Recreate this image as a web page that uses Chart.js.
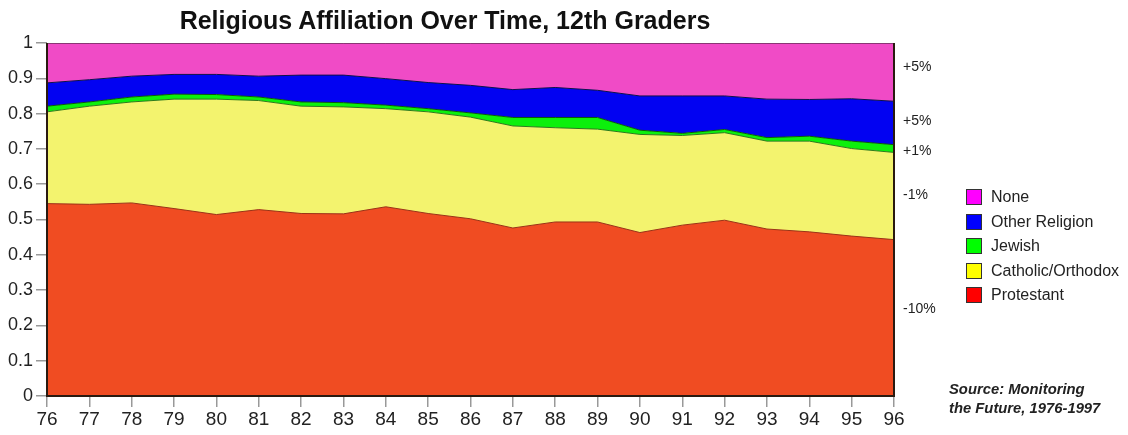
<!DOCTYPE html>
<html>
<head>
<meta charset="utf-8">
<script src="https://cdn.jsdelivr.net/npm/chart.js@4"></script>
<style>
  body { margin: 0; background: #fff; font-family: "Liberation Sans", Arial, sans-serif; }
  #wrap { position: relative; width: 1128px; height: 435px; }
  #title { position: absolute; left: 0; top: 7px; width: 890px; text-align: center;
           font-weight: bold; font-size: 25px; line-height: 26px; color: #111; }
  .change { position: absolute; left: 903px; font-size: 14px; line-height: 16px; color: #222; }
  #legend { position: absolute; left: 966px; top: 185px; }
  .item { height: 24.5px; display: flex; align-items: center; font-size: 16px; color: #222; }
  .swatch { width: 14px; height: 14px; border: 1px solid #333; margin-right: 9px; }
  #source { position: absolute; left: 949px; top: 380px; font-size: 14.8px; line-height: 19px;
            font-weight: bold; font-style: italic; color: #222; }
</style>
</head>
<body>
<div id="wrap">
  <canvas id="religionChart" width="1128" height="435"></canvas>
  <div id="title">Religious Affiliation Over Time, 12th Graders</div>
  <div id="legend"></div>
  <div id="source">Source: Monitoring<br>the Future, 1976-1997</div>
</div>
<script>
// Data (shares of 12th graders)
const years = ['76','77','78','79','80','81','82','83','84','85','86',
               '87','88','89','90','91','92','93','94','95','96'];
const protestant = [0.545,0.543,0.547,0.531,0.514,0.528,0.517,0.516,0.536,0.517,0.502,
                    0.476,0.493,0.493,0.463,0.484,0.498,0.473,0.465,0.453,0.443];
const catholic = [0.260,0.278,0.286,0.310,0.327,0.309,0.304,0.303,0.278,0.288,0.288,
                  0.289,0.267,0.263,0.278,0.254,0.248,0.249,0.257,0.248,0.247];
const jewish = [0.016,0.012,0.014,0.014,0.013,0.010,0.012,0.012,0.010,0.009,0.012,
                0.024,0.029,0.033,0.012,0.006,0.009,0.010,0.014,0.021,0.022];
const otherReligion = [0.066,0.063,0.059,0.056,0.057,0.059,0.076,0.078,0.075,0.074,0.078,
                       0.079,0.085,0.077,0.097,0.106,0.095,0.109,0.104,0.120,0.123];
const none = [0.113,0.104,0.094,0.089,0.089,0.094,0.091,0.091,0.101,0.112,0.120,
              0.132,0.126,0.134,0.150,0.150,0.150,0.159,0.160,0.158,0.165];
const yTickLabels = ['0','0.1','0.2','0.3','0.4','0.5','0.6','0.7','0.8','0.9','1'];
const changeLabels = ['+5%','+5%','+1%','-1%','-10%'];
const changeTops = [58, 112, 142, 186, 300];

// series drawn bottom -> top
const series = [
  { label: 'Protestant', data: protestant, fill: '#f04c22', line: '#9a3415', key: '#ff0000' },
  { label: 'Catholic/Orthodox', data: catholic, fill: '#f3f36e', line: '#2d7a1c', key: '#ffff00' },
  { label: 'Jewish', data: jewish, fill: '#0cf00c', line: '#0a5a0a', key: '#00ff00' },
  { label: 'Other Religion', data: otherReligion, fill: '#0202f2', line: '#10104a', key: '#0000ff' },
  { label: 'None', data: none, fill: '#f04bc6', line: '#222', key: '#ff00ff' }
];

const frame = {
  id: 'frame',
  afterDatasetsDraw(chart) {
    const a = chart.chartArea;
    const c = chart.ctx;
    c.save();
    c.strokeStyle = '#2a1a10';
    c.lineWidth = 2;
    c.beginPath();
    c.moveTo(a.left, a.top);
    c.lineTo(a.left, a.bottom);
    c.lineTo(a.right, a.bottom);
    c.lineTo(a.right, a.top);
    c.stroke();
    c.restore();
  }
};

const ctx = document.getElementById('religionChart').getContext('2d');
const religionChart = new Chart(ctx, {
  type: 'line',
  data: {
    labels: years,
    datasets: series.map((s, i) => ({
      label: s.label,
      data: s.data,
      backgroundColor: s.fill,
      borderColor: s.line,
      borderWidth: 1,
      fill: i === 0 ? 'origin' : '-1',
      pointRadius: 0,
      tension: 0
    }))
  },
  options: {
    responsive: false,
    animation: false,
    layout: { padding: { top: 43, right: 234, left: 0, bottom: 0 } },
    plugins: {
      legend: { display: false },
      tooltip: { enabled: false }
    },
    scales: {
      x: {
        offset: false,
        grid: { drawOnChartArea: false, tickLength: 11, color: '#999', lineWidth: 1.5 },
        border: { display: false },
        ticks: { color: '#222', font: { family: 'Liberation Sans', size: 19 }, padding: 1, maxRotation: 0, autoSkip: false },
        afterFit(s) { s.height = 39; }
      },
      y: {
        stacked: true,
        min: 0,
        max: 1,
        grid: { drawOnChartArea: false, tickLength: 11, color: '#999', lineWidth: 1.5 },
        border: { display: false },
        ticks: {
          stepSize: 0.1,
          color: '#222',
          padding: 3,
          font: { family: 'Liberation Sans', size: 18 },
          callback: (v, i) => yTickLabels[i]
        },
        afterFit(s) { s.width = 47; }
      }
    }
  },
  plugins: [frame]
});

// legend and change notes
const legend = document.getElementById('legend');
series.slice().reverse().forEach(s => {
  const row = document.createElement('div');
  row.className = 'item';
  row.innerHTML = '<span class="swatch" style="background:' + s.key + '"></span>' + s.label;
  legend.appendChild(row);
});
const wrap = document.getElementById('wrap');
changeLabels.forEach((t, i) => {
  const d = document.createElement('div');
  d.className = 'change';
  d.style.top = changeTops[i] + 'px';
  d.textContent = t;
  wrap.appendChild(d);
});
</script>
</body>
</html>
